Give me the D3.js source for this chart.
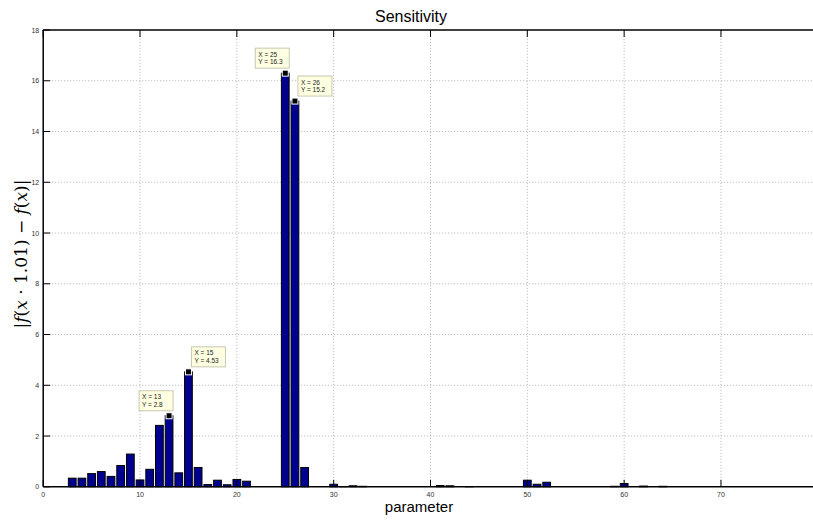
<!DOCTYPE html>
<html><head><meta charset="utf-8">
<script src="https://cdn.jsdelivr.net/npm/d3@7"></script>
<style>body{margin:0;background:#fff}svg{display:block}</style>
</head><body>
<svg id="c" width="813" height="520"></svg>
<script>
const params = d3.range(1, 80);
const values = [
 0, 0, 0.34, 0.34, 0.52, 0.60, 0.41, 0.84, 1.29, 0.27,
 0.69, 2.42, 2.8, 0.55, 4.53, 0.76, 0.09, 0.26, 0.08, 0.29,
 0.22, 0, 0, 0, 16.3, 15.2, 0.76, 0, 0, 0.10,
 0.01, 0.04, 0.02, 0, 0, 0, 0, 0, 0, 0,
 0.05, 0.04, 0, 0.01, 0, 0, 0, 0, 0, 0.26,
 0.10, 0.18, 0, 0, 0, 0, 0, 0, 0.02, 0.13,
 0, 0.03, 0, 0.02, 0, 0, 0, 0, 0, 0,
 0, 0, 0, 0, 0, 0, 0, 0, 0
];
const xTicks = [0, 10, 20, 30, 40, 50, 60, 70];
const yTicks = [0, 2, 4, 6, 8, 10, 12, 14, 16, 18];
const tips = [
 {x: 13, y: 2.8, side: "left"},
 {x: 15, y: 4.53, side: "right"},
 {x: 25, y: 16.3, side: "left"},
 {x: 26, y: 15.2, side: "right"}
];
const titleText = "Sensitivity";
const xLabel = "parameter";

const svg = d3.select("#c");
const x = d3.scaleLinear().domain([0, 80]).range([43.2, 817.8]);
const y = d3.scaleLinear().domain([0, 18]).range([486.8, 30]);
const X0 = 43.2, X1 = 813, Y0 = 486.8, Y1 = 30;

// grid
const g = svg.append("g");
g.selectAll(".gx").data(xTicks.filter(d => d > 0)).enter().append("line")
 .attr("x1", d => x(d)).attr("x2", d => x(d)).attr("y1", Y0).attr("y2", Y1)
 .attr("stroke", "#b0b0b0").attr("stroke-width", 1).attr("stroke-dasharray", "1,2");
g.selectAll(".gy").data(yTicks.filter(d => d > 0 && d < 18)).enter().append("line")
 .attr("y1", d => y(d)).attr("y2", d => y(d)).attr("x1", X0).attr("x2", X1)
 .attr("stroke", "#b0b0b0").attr("stroke-width", 1).attr("stroke-dasharray", "1,2");

// bars
const bw = x(0.8) - x(0);
const data = params.map((p, i) => ({p, v: values[i]})).filter(d => d.v > 0);
svg.append("g").selectAll("rect").data(data).enter().append("rect")
 .attr("x", d => x(d.p) - bw / 2).attr("width", bw)
 .attr("y", d => y(d.v)).attr("height", d => Y0 - y(d.v))
 .attr("fill", "#00008f").attr("stroke", "#000").attr("stroke-width", 1);

// axes
const ax = svg.append("g").attr("stroke", "#000");
ax.append("line").attr("x1", X0).attr("x2", X1).attr("y1", Y0).attr("y2", Y0).attr("stroke-width", 1.5);
ax.append("line").attr("x1", X0).attr("x2", X1).attr("y1", Y1).attr("y2", Y1).attr("stroke-width", 1.5);
ax.append("line").attr("x1", X0).attr("x2", X0).attr("y1", Y0).attr("y2", Y1).attr("stroke-width", 1.5);
ax.selectAll(".tx").data(xTicks).enter().append("line")
 .attr("x1", d => x(d)).attr("x2", d => x(d)).attr("y1", Y0).attr("y2", Y0 - 7).attr("stroke-width", 1);
ax.selectAll(".tx2").data(xTicks).enter().append("line")
 .attr("x1", d => x(d)).attr("x2", d => x(d)).attr("y1", Y1).attr("y2", Y1 + 7).attr("stroke-width", 1);
ax.selectAll(".ty").data(yTicks).enter().append("line")
 .attr("x1", X0).attr("x2", X0 + 7).attr("y1", d => y(d)).attr("y2", d => y(d)).attr("stroke-width", 1);

svg.append("g").selectAll("text").data(xTicks).enter().append("text")
 .attr("x", d => x(d)).attr("y", Y0 + 10).attr("text-anchor", "middle")
 .attr("font-family", "Liberation Sans, Arial, sans-serif").attr("font-size", 7).attr("fill", "#333")
 .text(d => d);
svg.append("g").selectAll("text").data(yTicks).enter().append("text")
 .attr("x", X0 - 4).attr("y", d => y(d) + 2.5).attr("text-anchor", "end")
 .attr("font-family", "Liberation Sans, Arial, sans-serif").attr("font-size", 7).attr("fill", "#333")
 .text(d => d);

// datatips
const tg = svg.append("g");
tips.forEach(t => {
 const px = x(t.x), py = y(t.y);
 const w = 34, h = 20;
 const bx = t.side === "left" ? px - w + 4 : px + 3;
 const by = py - h - 5;
 tg.append("rect").attr("x", bx).attr("y", by).attr("width", w).attr("height", h)
  .attr("fill", "#ffffe1").attr("stroke", "#c8c8b0").attr("stroke-width", 1);
 tg.append("text").attr("x", bx + 3).attr("y", by + 8.5).attr("font-size", 6.5)
  .attr("font-family", "Liberation Sans, Arial, sans-serif").attr("fill", "#222").text("X = " + t.x);
 tg.append("text").attr("x", bx + 3).attr("y", by + 16).attr("font-size", 6.5)
  .attr("font-family", "Liberation Sans, Arial, sans-serif").attr("fill", "#222").text("Y = " + t.y);
 tg.append("rect").attr("x", px - 3).attr("y", py - 3).attr("width", 6).attr("height", 6)
  .attr("fill", "#000").attr("stroke", "#fff").attr("stroke-width", 1);
});

// labels
svg.append("text").attr("x", 411).attr("y", 22).attr("text-anchor", "middle")
 .attr("font-family", "Liberation Sans, Arial, sans-serif").attr("font-size", 16).text(titleText);
svg.append("text").attr("x", 419).attr("y", 512).attr("text-anchor", "middle")
 .attr("font-family", "Liberation Sans, Arial, sans-serif").attr("font-size", 15).text(xLabel);
const yl = svg.append("text").attr("transform", "translate(27,254) rotate(-90)").attr("text-anchor", "middle")
 .attr("font-family", "DejaVu Serif, Liberation Serif, serif").attr("font-size", 17);
yl.append("tspan").text("|");
yl.append("tspan").attr("font-style", "italic").text("f");
yl.append("tspan").text("(");
yl.append("tspan").attr("font-style", "italic").text("x");
yl.append("tspan").text(" · 1.01) − ");
yl.append("tspan").attr("font-style", "italic").text("f");
yl.append("tspan").text("(");
yl.append("tspan").attr("font-style", "italic").text("x");
yl.append("tspan").text(")|");
</script>
</body></html>
